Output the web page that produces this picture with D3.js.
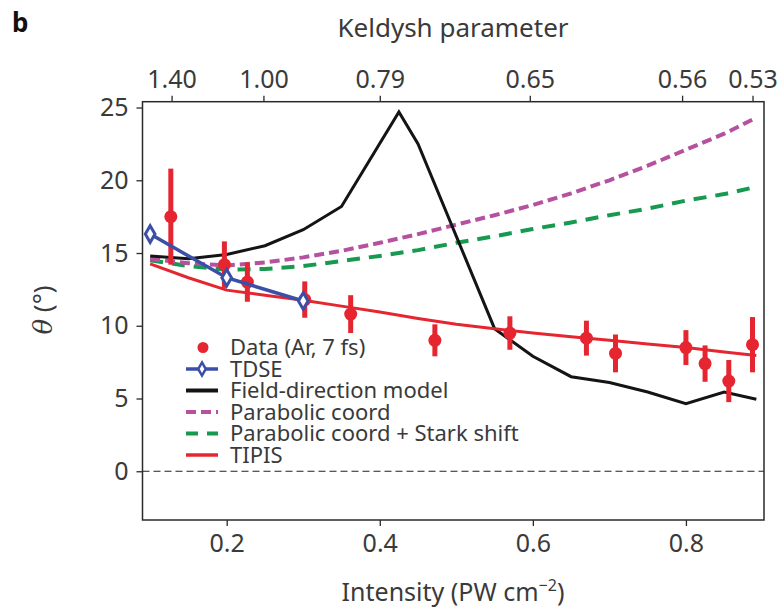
<!DOCTYPE html>
<html>
<head>
<meta charset="utf-8">
<script src="https://cdn.jsdelivr.net/npm/d3@7"></script>
<style>
  html, body { margin: 0; padding: 0; background: #fff; }
  svg { display: block; font-family: "Noto Sans", "Open Sans", sans-serif; }
</style>
</head>
<body>
<svg id="chart" width="783" height="610"></svg>
<script>
// Measured deflection angle vs. intensity (Ar, 7 fs)
const dataIntensity = [0.127, 0.197, 0.227, 0.302, 0.362, 0.472, 0.570, 0.670, 0.708, 0.800, 0.825, 0.856, 0.887];
const dataTheta     = [17.5, 14.2, 13.0, 11.8, 10.8, 9.0, 9.5, 9.15, 8.1, 8.5, 7.4, 6.2, 8.7];
const dataError     = [3.3, 1.6, 1.35, 1.25, 1.3, 1.1, 1.15, 1.2, 1.3, 1.2, 1.25, 1.45, 1.9];

// TDSE
const tdseIntensity = [0.10, 0.20, 0.30];
const tdseTheta     = [16.3, 13.3, 11.7];

// Field-direction model
const fieldIntensity = [0.10, 0.15, 0.20, 0.25, 0.30, 0.35, 0.425, 0.45, 0.55, 0.60, 0.65, 0.70, 0.75, 0.80, 0.85, 0.892];
const fieldTheta     = [14.8, 14.6, 14.9, 15.5, 16.6, 18.2, 24.7, 22.5, 9.8, 7.9, 6.5, 6.1, 5.45, 4.65, 5.45, 4.95];

// Model curves sampled on a common intensity grid
const modelIntensity = [0.10, 0.15, 0.20, 0.25, 0.30, 0.35, 0.40, 0.45, 0.50, 0.55, 0.60, 0.65, 0.70, 0.75, 0.80, 0.85, 0.892];
const parabolicTheta = [14.6, 14.3, 14.15, 14.35, 14.7, 15.15, 15.7, 16.3, 16.95, 17.6, 18.3, 19.1, 20.0, 21.0, 22.1, 23.2, 24.3];
const starkTheta     = [14.5, 14.1, 13.85, 13.9, 14.1, 14.45, 14.8, 15.2, 15.7, 16.15, 16.65, 17.1, 17.6, 18.05, 18.6, 19.05, 19.55];
const tipisTheta     = [14.25, 13.3, 12.45, 12.1, 11.75, 11.35, 10.95, 10.5, 10.1, 9.8, 9.5, 9.25, 9.0, 8.75, 8.5, 8.2, 7.95];

// Axis ticks
const bottomTicks = [0.2, 0.4, 0.6, 0.8];
const leftTicks = [0, 5, 10, 15, 20, 25];
const keldyshTickIntensity = [0.128, 0.248, 0.400, 0.596, 0.795, 0.887];
const keldyshTickLabels = ["1.40", "1.00", "0.79", "0.65", "0.56", "0.53"];

const legendLabels = ["Data (Ar, 7 fs)", "TDSE", "Field-direction model", "Parabolic coord", "Parabolic coord + Stark shift", "TIPIS"];

const C = {
  red: "#e52630",
  blue: "#3c4fa6",
  black: "#141414",
  magenta: "#b5519f",
  green: "#179a4f",
  text: "#3a3a3a",
  frame: "#2a2a2a"
};

const svg = d3.select("#chart");
const plotLeft = 142.5, plotRight = 764, plotTop = 101.7, plotBottom = 520;

const x = d3.scaleLinear().domain([0.09, 0.902]).range([plotLeft, plotRight]);
const y = d3.scaleLinear().domain([-3.35, 25.4]).range([plotBottom, plotTop]);

// Zero reference line
svg.append("line")
  .attr("x1", plotLeft).attr("x2", plotRight)
  .attr("y1", y(0)).attr("y2", y(0))
  .attr("stroke", "#222").attr("stroke-width", 1.2)
  .attr("stroke-dasharray", "7,4");

const line = d3.line().x(d => x(d[0])).y(d => y(d[1]));
const zip = (a, b) => a.map((v, i) => [v, b[i]]);

// Model curves
svg.append("path").datum(zip(modelIntensity, starkTheta))
  .attr("d", line).attr("fill", "none")
  .attr("stroke", C.green).attr("stroke-width", 4)
  .attr("stroke-dasharray", "13,9");

svg.append("path").datum(zip(modelIntensity, parabolicTheta))
  .attr("d", line).attr("fill", "none")
  .attr("stroke", C.magenta).attr("stroke-width", 4)
  .attr("stroke-dasharray", "10,5");

svg.append("path").datum(zip(fieldIntensity, fieldTheta))
  .attr("d", line).attr("fill", "none")
  .attr("stroke", C.black).attr("stroke-width", 3)
  .attr("stroke-linejoin", "miter");

svg.append("path").datum(zip(modelIntensity, tipisTheta))
  .attr("d", line).attr("fill", "none")
  .attr("stroke", C.red).attr("stroke-width", 3);

// Experimental data with error bars
const pts = dataIntensity.map((v, i) => ({ x: v, y: dataTheta[i], e: dataError[i] }));
svg.append("g").selectAll("line").data(pts).join("line")
  .attr("x1", d => x(d.x)).attr("x2", d => x(d.x))
  .attr("y1", d => y(d.y - d.e)).attr("y2", d => y(d.y + d.e))
  .attr("stroke", C.red).attr("stroke-width", 5);
svg.append("g").selectAll("circle").data(pts).join("circle")
  .attr("cx", d => x(d.x)).attr("cy", d => y(d.y))
  .attr("r", 6.5).attr("fill", C.red);

// TDSE
const diamond = d3.symbol().type(d3.symbolDiamond).size(80);
svg.append("path").datum(zip(tdseIntensity, tdseTheta))
  .attr("d", line).attr("fill", "none")
  .attr("stroke", C.blue).attr("stroke-width", 3.5);
svg.append("g").selectAll("path").data(zip(tdseIntensity, tdseTheta)).join("path")
  .attr("d", diamond)
  .attr("transform", d => `translate(${x(d[0])},${y(d[1])})`)
  .attr("fill", "#fff").attr("stroke", C.blue).attr("stroke-width", 3);

// Frame
svg.append("rect")
  .attr("x", plotLeft).attr("y", plotTop)
  .attr("width", plotRight - plotLeft).attr("height", plotBottom - plotTop)
  .attr("fill", "none").attr("stroke", C.frame).attr("stroke-width", 1.5);

// Axes
function styleAxis(g) {
  g.select(".domain").remove();
  g.selectAll(".tick line").attr("stroke", C.frame).attr("stroke-width", 1.3);
  g.selectAll(".tick text").attr("fill", C.text).style("font-size", "25px")
    .style("font-family", "'Noto Sans', sans-serif");
}

svg.append("g").attr("transform", `translate(0,${plotBottom})`)
  .call(d3.axisBottom(x).tickValues(bottomTicks).tickSize(6).tickPadding(8).tickFormat(d3.format(".1f")))
  .call(styleAxis);

svg.append("g").attr("transform", `translate(${plotLeft},0)`)
  .call(d3.axisLeft(y).tickValues(leftTicks).tickSize(6).tickPadding(8).tickFormat(d3.format("d")))
  .call(styleAxis);

svg.append("g").attr("transform", `translate(0,${plotTop})`)
  .call(d3.axisTop(x).tickValues(keldyshTickIntensity).tickSize(6).tickPadding(8)
    .tickFormat((d, i) => keldyshTickLabels[i]))
  .call(styleAxis);

// Axis titles
const xTitle = svg.append("text").attr("x", 453).attr("y", 601)
  .attr("text-anchor", "middle").attr("fill", C.text).style("font-size", "25px");
xTitle.append("tspan").text("Intensity (PW cm");
xTitle.append("tspan").attr("dy", -10).style("font-size", "16px").text("−2");
xTitle.append("tspan").attr("dy", 10).text(")");

svg.append("text").attr("x", 453).attr("y", 37)
  .attr("text-anchor", "middle").attr("fill", C.text).style("font-size", "26px")
  .text("Keldysh parameter");

const yTitle = svg.append("text")
  .attr("transform", "translate(52,310) rotate(-90)")
  .attr("text-anchor", "middle").attr("fill", C.text).style("font-size", "26px");
yTitle.append("tspan").style("font-style", "italic").style("font-family", "'DejaVu Serif', serif").text("θ");
yTitle.append("tspan").text(" (°)");

svg.append("text").attr("x", 12).attr("y", 32)
  .attr("fill", "#111").style("font-size", "26px").style("font-weight", "bold")
  .text("b");

// Legend
const lgX = 186, lgY0 = 347.5, lgDy = 21.5, lgW = 32;
const lg = svg.append("g");
legendLabels.forEach((t, i) => {
  const cy = lgY0 + i * lgDy;
  lg.append("text").attr("x", 230).attr("y", cy).attr("dy", "0.35em")
    .attr("fill", C.text).style("font-size", "22px").text(t);
  if (i === 0) {
    lg.append("circle").attr("cx", 203).attr("cy", cy).attr("r", 5.5).attr("fill", C.red);
  } else if (i === 1) {
    lg.append("line").attr("x1", lgX).attr("x2", lgX + lgW).attr("y1", cy).attr("y2", cy)
      .attr("stroke", C.blue).attr("stroke-width", 3.5);
    lg.append("path").attr("d", d3.symbol().type(d3.symbolDiamond).size(50))
      .attr("transform", `translate(${lgX + lgW / 2},${cy})`)
      .attr("fill", "#fff").attr("stroke", C.blue).attr("stroke-width", 2.5);
  } else {
    const col = [null, null, C.black, C.magenta, C.green, C.red][i];
    const dash = [null, null, null, "10,5", "12,9", null][i];
    const l = lg.append("line").attr("x1", lgX).attr("x2", lgX + lgW).attr("y1", cy).attr("y2", cy)
      .attr("stroke", col).attr("stroke-width", i === 5 ? 3.5 : 4);
    if (dash) l.attr("stroke-dasharray", dash);
  }
});
</script>
</body>
</html>
